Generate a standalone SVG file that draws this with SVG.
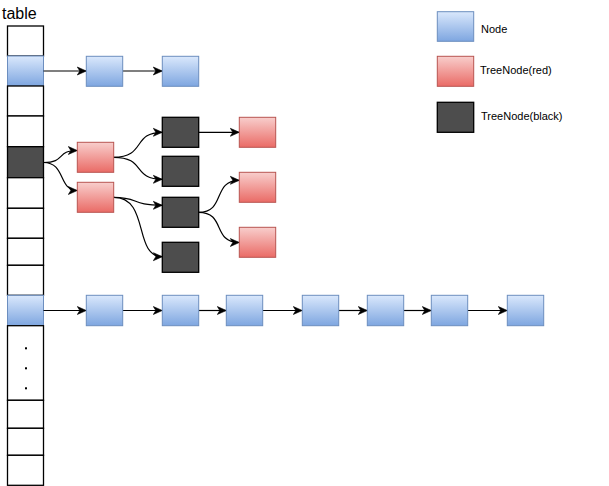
<svg xmlns="http://www.w3.org/2000/svg" width="609" height="486" viewBox="0 0 609 486">
<defs>
<linearGradient id="gBlue" x1="0" y1="0" x2="0" y2="1"><stop offset="0" stop-color="#dae8fc"/><stop offset="1" stop-color="#7ea6e0"/></linearGradient>
<linearGradient id="gRed" x1="0" y1="0" x2="0" y2="1"><stop offset="0" stop-color="#f8cecc"/><stop offset="1" stop-color="#ea6b66"/></linearGradient>
<marker id="arr" markerUnits="userSpaceOnUse" markerWidth="10" markerHeight="10" viewBox="0 0 10 10" refX="9" refY="5" orient="auto">
<path d="M0,1 L9,5 L0,9 L2.5,5 z" fill="#000" stroke="#000" stroke-width="0.6"/>
</marker>
<style>
.cell{fill:#fff;stroke:#000;stroke-width:1.3}
.blue{fill:url(#gBlue);stroke:#6c8ebf;stroke-width:1}
.red{fill:url(#gRed);stroke:#b85450;stroke-width:1}
.black{fill:#4d4d4d;stroke:#000;stroke-width:1.3}
.edge{fill:none;stroke:#000;stroke-width:1.2;marker-end:url(#arr)}
.lbl{font-family:"Liberation Sans",Arial,sans-serif;font-size:11px;fill:#000}
</style>
</defs>
<rect width="609" height="486" fill="#fff"/>
<text x="2" y="19" font-family="Liberation Sans, Arial, sans-serif" font-size="16" fill="#000">table</text>
<g id="table">
<rect class="cell" x="7.5" y="26" width="36" height="30"/>
<rect class="blue" x="7.5" y="56" width="36" height="30"/>
<rect class="cell" x="7.5" y="86" width="36" height="30"/>
<rect class="cell" x="7.5" y="116" width="36" height="30.7"/>
<rect class="black" x="7.5" y="146.7" width="36" height="31" stroke-width="1.8"/>
<rect class="cell" x="7.5" y="177.7" width="36" height="30.6"/>
<rect class="cell" x="7.5" y="208.3" width="36" height="30"/>
<rect class="cell" x="7.5" y="238.3" width="36" height="27"/>
<rect class="cell" x="7.5" y="265.3" width="36" height="30"/>
<rect class="blue" x="7.5" y="295.3" width="36" height="30.4"/>
<rect class="cell" x="7.5" y="325.7" width="36" height="74.6"/>
<rect class="cell" x="7.5" y="400.3" width="36" height="28"/>
<rect class="cell" x="7.5" y="428.3" width="36" height="27"/>
<rect class="cell" x="7.5" y="455.3" width="36" height="30"/>
<rect x="25" y="347.3" width="2" height="2" fill="#000"/>
<rect x="25" y="367.3" width="2" height="2" fill="#000"/>
<rect x="25" y="387.3" width="2" height="2" fill="#000"/>
</g>
<g id="connectors">
<path class="edge" d="M43.5,71 L86.3,71"/>
<path class="edge" d="M122.7,71 L162.3,71"/>
<path class="edge" d="M43.5,162.5 C66,162.5 56,150.5 77.3,150.5"/>
<path class="edge" d="M43.5,162.5 C66,162.5 58,190.5 77.3,190.5"/>
<path class="edge" d="M113.7,157.3 C146,157.3 132,132.3 162.3,132.3"/>
<path class="edge" d="M113.7,157.3 C146,157.3 132,179.3 162.3,179.3"/>
<path class="edge" d="M113.7,197.3 C140,197.3 130,205.3 162.3,205.3"/>
<path class="edge" d="M113.7,197.3 C150,197.3 133,256.7 162.3,256.7"/>
<path class="edge" d="M198.7,132.3 L239.3,132.3"/>
<path class="edge" d="M198.7,212.3 C226,212.3 212,180.3 239.3,180.3"/>
<path class="edge" d="M198.7,212.3 C226,212.3 212,242.5 239.3,242.5"/>
<path class="edge" d="M43.5,310.5 L86.3,310.5"/>
<path class="edge" d="M122.7,310.5 L162.3,310.5"/>
<path class="edge" d="M198.7,310.5 L226.3,310.5"/>
<path class="edge" d="M262.7,310.5 L302.3,310.5"/>
<path class="edge" d="M338.7,310.5 L367.3,310.5"/>
<path class="edge" d="M403.7,310.5 L431.3,310.5"/>
<path class="edge" d="M467.7,310.5 L507.3,310.5"/>
</g>
<g id="n1a"><rect class="blue" x="86.3" y="56.3" width="36.4" height="30"/></g>
<g id="n1b"><rect class="blue" x="162.3" y="56.3" width="36.4" height="30"/></g>
<g id="r1"><rect class="red" x="77.3" y="142.3" width="36.4" height="30"/></g>
<g id="r2"><rect class="red" x="77.3" y="182.3" width="36.4" height="30"/></g>
<g id="b1"><rect class="black" x="162.3" y="117.3" width="36.4" height="30"/></g>
<g id="b2"><rect class="black" x="162.3" y="156.3" width="36.4" height="30"/></g>
<g id="b3"><rect class="black" x="162.3" y="197.3" width="36.4" height="30"/></g>
<g id="b4"><rect class="black" x="162.3" y="242.3" width="36.4" height="30"/></g>
<g id="r3"><rect class="red" x="239.3" y="117.3" width="36.4" height="30"/></g>
<g id="r4"><rect class="red" x="239.3" y="172.3" width="36.4" height="30"/></g>
<g id="r5"><rect class="red" x="239.3" y="227.3" width="36.4" height="30"/></g>
<g id="n2a"><rect class="blue" x="86.3" y="295.3" width="36.4" height="30.4"/></g>
<g id="n2b"><rect class="blue" x="162.3" y="295.3" width="36.4" height="30.4"/></g>
<g id="n2c"><rect class="blue" x="226.3" y="295.3" width="36.4" height="30.4"/></g>
<g id="n2d"><rect class="blue" x="302.3" y="295.3" width="36.4" height="30.4"/></g>
<g id="n2e"><rect class="blue" x="367.3" y="295.3" width="36.4" height="30.4"/></g>
<g id="n2f"><rect class="blue" x="431.3" y="295.3" width="36.4" height="30.4"/></g>
<g id="n2g"><rect class="blue" x="507.3" y="295.3" width="36.4" height="30.4"/></g>
<g id="legend-node"><rect class="blue" x="437.3" y="11.7" width="36.4" height="29.6"/><text class="lbl" x="481" y="32.5">Node</text></g>
<g id="legend-red"><rect class="red" x="437.3" y="56.3" width="36.4" height="30"/><text class="lbl" x="480" y="74">TreeNode(red)</text></g>
<g id="legend-black"><rect class="black" x="437.3" y="102.3" width="36.4" height="30"/><text class="lbl" x="481" y="119.5">TreeNode(black)</text></g>
</svg>
